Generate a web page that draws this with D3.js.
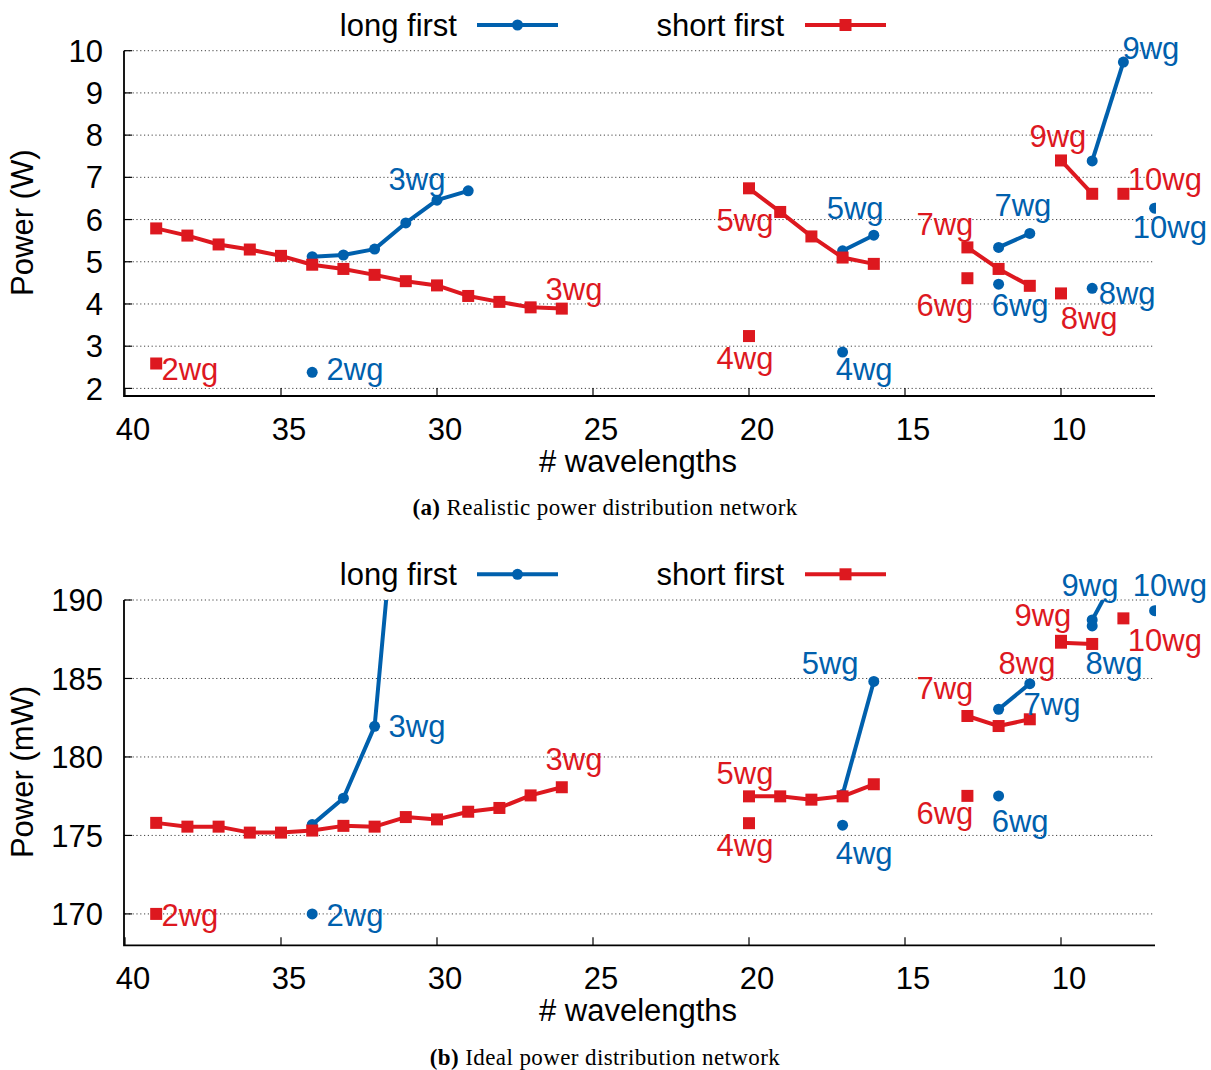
<!DOCTYPE html>
<html>
<head>
<meta charset="utf-8">
<script src="https://cdn.jsdelivr.net/npm/d3@7"></script>
<style>
body { margin: 0; background: #fff; }
</style>
</head>
<body>
<svg id="chart"></svg>
<script>
const xTicks = [40, 35, 30, 25, 20, 15, 10]
const aYTicks = [2, 3, 4, 5, 6, 7, 8, 9, 10]
const bYTicks = [170, 175, 180, 185, 190]

// (a) realistic network, power in W. one entry per waveguide count (2wg..10wg)
const aLong = [
    [[34, 2.38]],
    [[34, 5.12], [33, 5.16], [32, 5.30], [31, 5.92], [30, 6.46], [29, 6.68]],
    [[17, 2.86]],
    [[17, 5.26], [16, 5.63]],
    [[12, 4.47]],
    [[12, 5.34], [11, 5.67]],
    [[9, 4.37]],
    [[9, 7.39], [8, 9.73]],
    [[7, 6.27]]
]
const aShort = [
    [[39, 2.59]],
    [[39, 5.79], [38, 5.62], [37, 5.41], [36, 5.29], [35, 5.14], [34, 4.93], [33, 4.83],
     [32, 4.69], [31, 4.54], [30, 4.44], [29, 4.19], [28, 4.05], [27, 3.92], [26, 3.89]],
    [[20, 3.24]],
    [[20, 6.74], [19, 6.18], [18, 5.60], [17, 5.10], [16, 4.95]],
    [[13, 4.61]],
    [[13, 5.34], [12, 4.83], [11, 4.43]],
    [[10, 4.25]],
    [[10, 7.40], [9, 6.61]],
    [[8, 6.61]]
]
// label text, x, y (data units)
const aLongLabels = [
    ['2wg', 32.63, 2.46], ['3wg', 30.64, 6.96], ['4wg', 16.31, 2.46], ['5wg', 16.6, 6.27],
    ['6wg', 11.31, 3.97], ['7wg', 11.22, 6.34], ['8wg', 7.88, 4.26], ['9wg', 7.12, 10.07],
    ['10wg', 6.51, 5.82]
]
const aShortLabels = [
    ['2wg', 37.92, 2.46], ['3wg', 25.61, 4.35], ['4wg', 20.13, 2.72], ['5wg', 20.13, 5.99],
    ['6wg', 13.72, 3.97], ['7wg', 13.72, 5.89], ['8wg', 9.1, 3.67], ['9wg', 10.1, 7.98],
    ['10wg', 6.67, 6.96]
]

// (b) ideal network, power in mW
const bLong = [
    [[34, 170.0]],
    [[34, 175.69], [33, 177.37], [32, 181.95], [31, 203.7]],
    [[17, 175.65]],
    [[17, 177.6], [16, 184.81]],
    [[12, 177.52]],
    [[12, 183.04], [11, 184.67]],
    [[9, 188.35]],
    [[9, 188.73], [8, 192.4]],
    [[7, 189.32]]
]
const bShort = [
    [[39, 170.0]],
    [[39, 175.80], [38, 175.56], [37, 175.56], [36, 175.18], [35, 175.18], [34, 175.31], [33, 175.61],
     [32, 175.56], [31, 176.17], [30, 176.02], [29, 176.51], [28, 176.75], [27, 177.55], [26, 178.07]],
    [[20, 175.78]],
    [[20, 177.49], [19, 177.49], [18, 177.28], [17, 177.49], [16, 178.26]],
    [[13, 177.52]],
    [[13, 182.61], [12, 181.97], [11, 182.40]],
    [[10, 187.4]],
    [[10, 187.28], [9, 187.20]],
    [[8, 188.83]]
]
const bLongLabels = [
    ['2wg', 32.63, 169.96], ['3wg', 30.64, 182.0], ['4wg', 16.31, 173.91], ['5wg', 17.4, 186.0],
    ['6wg', 11.31, 175.94], ['7wg', 10.29, 183.4], ['8wg', 8.3, 186.0], ['9wg', 9.07, 190.97],
    ['10wg', 6.51, 190.97]
]
const bShortLabels = [
    ['2wg', 37.92, 169.96], ['3wg', 25.61, 179.89], ['4wg', 20.13, 174.41], ['5wg', 20.13, 179.0],
    ['6wg', 13.72, 176.45], ['7wg', 13.72, 184.41], ['8wg', 11.09, 186.0], ['9wg', 10.58, 189.06],
    ['10wg', 6.67, 187.47]
]

const BLUE = '#0060ad'
const RED = '#dd181f'
const FONT = '"Liberation Sans", Arial, sans-serif'

const svg = d3.select('#chart').attr('width', 1211).attr('height', 1070)

const x = d3.scaleLinear().domain([40, 7]).range([125, 1154.6])

function marker(g, kind, px, py, color) {
    if (kind === 'circle') {
        g.append('circle').attr('cx', px).attr('cy', py).attr('r', 5.5).attr('fill', color)
    } else {
        g.append('rect').attr('x', px - 6).attr('y', py - 6).attr('width', 12).attr('height', 12).attr('fill', color)
    }
}

function drawPanel(opt) {
    const top = opt.top
    const y = d3.scaleLinear().domain(opt.yDomain).range([top + 345.3, top])
    const bottom = top + 345.3
    const g = svg.append('g')

    g.append('clipPath').attr('id', opt.id + '-clip')
        .append('rect').attr('x', 124).attr('y', top).attr('width', 1032).attr('height', 345.3)

    // grid
    g.selectAll('.grid').data(opt.yTicks).enter().append('line')
        .attr('x1', 125).attr('x2', 1154.6)
        .attr('y1', d => y(d)).attr('y2', d => y(d))
        .attr('stroke', '#444').attr('stroke-width', 1).attr('stroke-dasharray', '1.2,2.6')

    // axes (left + bottom only)
    g.append('path')
        .attr('d', 'M124,' + top + 'V' + bottom + 'H1155')
        .attr('fill', 'none').attr('stroke', '#000').attr('stroke-width', 1.8)

    g.selectAll('.ytick').data(opt.yTicks).enter().append('line')
        .attr('x1', 124).attr('x2', 132).attr('y1', d => y(d)).attr('y2', d => y(d))
        .attr('stroke', '#000').attr('stroke-width', 1.2)
    g.selectAll('.xtick').data(xTicks).enter().append('line')
        .attr('x1', d => x(d)).attr('x2', d => x(d)).attr('y1', bottom).attr('y2', bottom - 8)
        .attr('stroke', '#000').attr('stroke-width', 1.2)

    g.selectAll('.ylab').data(opt.yTicks).enter().append('text')
        .attr('x', 103).attr('y', d => y(d)).attr('dy', '0.36em')
        .attr('text-anchor', 'end').style('font', '31px ' + FONT).text(d => d)
    g.selectAll('.xlab').data(xTicks).enter().append('text')
        .attr('x', d => x(d) + 8).attr('y', bottom + 33).attr('dy', '0.36em')
        .attr('text-anchor', 'middle').style('font', '31px ' + FONT).text(d => d)

    g.append('text').attr('x', 638).attr('y', bottom + 65).attr('dy', '0.36em')
        .attr('text-anchor', 'middle').style('font', '31px ' + FONT).text('# wavelengths')
    g.append('text')
        .attr('transform', 'translate(33,' + (top + opt.ylabelOffset) + ') rotate(-90)')
        .attr('text-anchor', 'middle').style('font', '31px ' + FONT).text(opt.ylabel)

    // legend
    const ly = top - 25.7
    g.append('text').attr('x', 457).attr('y', ly).attr('dy', '0.36em').attr('text-anchor', 'end')
        .style('font', '31px ' + FONT).text('long first')
    g.append('line').attr('x1', 477).attr('x2', 558).attr('y1', ly).attr('y2', ly)
        .attr('stroke', BLUE).attr('stroke-width', 4)
    marker(g, 'circle', 517.5, ly, BLUE)
    g.append('text').attr('x', 784).attr('y', ly).attr('dy', '0.36em').attr('text-anchor', 'end')
        .style('font', '31px ' + FONT).text('short first')
    g.append('line').attr('x1', 805).attr('x2', 886).attr('y1', ly).attr('y2', ly)
        .attr('stroke', RED).attr('stroke-width', 4)
    marker(g, 'rect', 845.5, ly, RED)

    // data
    const plot = g.append('g').attr('clip-path', 'url(#' + opt.id + '-clip)')
    const line = d3.line().x(d => x(d[0])).y(d => y(d[1]))
    const sets = [[opt.long, 'circle', BLUE], [opt.short, 'rect', RED]]
    sets.forEach(function (s) {
        s[0].forEach(function (pts) {
            if (pts.length > 1) {
                plot.append('path').datum(pts).attr('d', line)
                    .attr('fill', 'none').attr('stroke', s[2]).attr('stroke-width', 4)
                    .attr('stroke-linejoin', 'round')
            }
            pts.forEach(function (p) {
                marker(plot, s[1], x(p[0]), y(p[1]), s[2])
            })
        })
    })

    // point labels
    const labs = [[opt.longLabels, BLUE], [opt.shortLabels, RED]]
    labs.forEach(function (l) {
        g.selectAll(null).data(l[0]).enter().append('text')
            .attr('x', d => x(d[1])).attr('y', d => y(d[2])).attr('dy', '0.36em')
            .attr('text-anchor', 'middle').attr('fill', l[1])
            .style('font', '31px ' + FONT).text(d => d[0])
    })

    // caption
    const cap = g.append('text').attr('x', 605).attr('y', bottom + 111).attr('dy', '0.36em')
        .attr('text-anchor', 'middle').attr('letter-spacing', '0.4')
        .style('font', '23px "Liberation Serif", "DejaVu Serif", serif')
    cap.append('tspan').attr('font-weight', 'bold').text(opt.tag)
    cap.append('tspan').text(' ' + opt.caption)
}

drawPanel({
    id: 'a', top: 50.7, yDomain: [1.82, 10], yTicks: aYTicks, ylabel: 'Power (W)', ylabelOffset: 172,
    long: aLong, short: aShort, longLabels: aLongLabels, shortLabels: aShortLabels,
    tag: '(a)', caption: 'Realistic power distribution network'
})
drawPanel({
    id: 'b', top: 600, yDomain: [168, 190], yTicks: bYTicks, ylabel: 'Power (mW)', ylabelOffset: 172,
    long: bLong, short: bShort, longLabels: bLongLabels, shortLabels: bShortLabels,
    tag: '(b)', caption: 'Ideal power distribution network'
})
</script>
</body>
</html>
